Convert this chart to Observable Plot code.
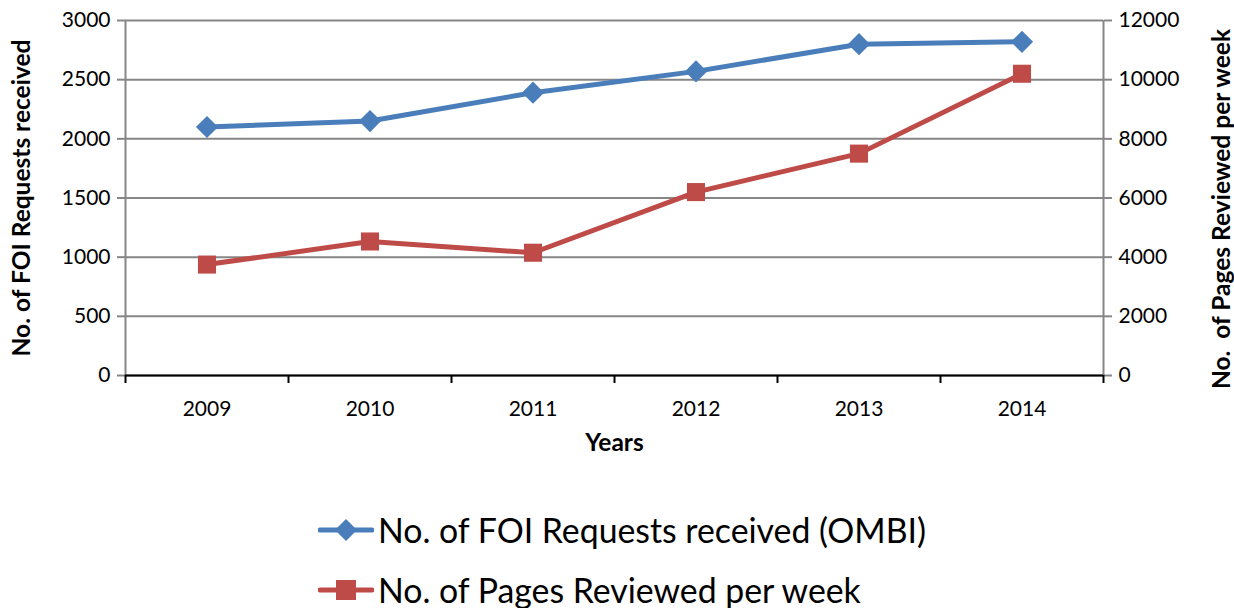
<!DOCTYPE html>
<html><head><meta charset="utf-8">
<script src="https://cdn.jsdelivr.net/npm/d3@7"></script>
<script src="https://cdn.jsdelivr.net/npm/@observablehq/plot@0.6"></script>
<style>
body{margin:0;background:#fff;font-family:Lato,sans-serif;}
#legend .row{display:flex;align-items:center;height:60px;padding-left:318px;font-size:33.8px;color:#000;}
#legend svg{display:block;margin-right:4px;}
</style>
</head><body><div id="chart"></div><div id="legend"></div><script>
const years = [2009, 2010, 2011, 2012, 2013, 2014];
const foiRequests = [2100, 2150, 2390, 2570, 2800, 2820];
const pagesReviewed = [3750, 4530, 4150, 6200, 7500, 10200];
const leftTicks = [0, 500, 1000, 1500, 2000, 2500, 3000];
const rightTicks = [0, 2000, 4000, 6000, 8000, 10000, 12000];
const seriesNames = ["No. of FOI Requests received (OMBI)", "No. of Pages Reviewed per week"];
const leftTitle = "No. of FOI Requests received";
const rightTitle = "No.  of Pages Reviewed per week";
const xTitle = "Years";
const blue = "#4a7ebb", red = "#be4b48", grid = "#868686";

const ratio = rightTicks[rightTicks.length - 1] / leftTicks[leftTicks.length - 1];
const rows = years.map((year, i) => ({year, foi: foiRequests[i], pages: pagesReviewed[i] / ratio}));
const bounds = [...years.map(y => y - 0.5), years[years.length - 1] + 0.5];

const chart = Plot.plot({
  width: 1234, height: 500,
  marginLeft: 125, marginRight: 131, marginTop: 20, marginBottom: 125,
  style: {fontFamily: "Lato, sans-serif", fontSize: "20px", color: "#000", background: "#fff"},
  x: {type: "linear", domain: [bounds[0], bounds[bounds.length - 1]], axis: null},
  y: {domain: [leftTicks[0], leftTicks[leftTicks.length - 1]], axis: null},
  marks: [
    Plot.gridY(leftTicks, {stroke: grid, strokeOpacity: 1, strokeWidth: 2}),
    Plot.ruleX([bounds[0], bounds[bounds.length - 1]], {stroke: grid, strokeWidth: 2}),
    Plot.axisY(leftTicks, {anchor: "left", tickSize: 8, tickPadding: 7, stroke: grid, strokeWidth: 2, label: null, fontSize: 21, fill: "#000", tickFormat: d => String(d)}),
    Plot.axisY(rightTicks.map(v => v / ratio), {anchor: "right", tickSize: 8, tickPadding: 7, stroke: grid, strokeWidth: 2, label: null, fontSize: 21, fill: "#000", tickFormat: d => String(Math.round(d * ratio))}),
    Plot.ruleY([0], {stroke: "#000", strokeWidth: 2}),
    Plot.axisX(bounds, {anchor: "bottom", tickSize: 8, stroke: "#000", strokeWidth: 2, tickFormat: () => "", label: null}),
    Plot.axisX(years, {anchor: "bottom", tickSize: 0, tickPadding: 26, tickFormat: d => String(d), label: null, fontSize: 21, fill: "#000"}),
    Plot.line(rows, {x: "year", y: "foi", stroke: blue, strokeWidth: 5}),
    Plot.dot(rows, {x: "year", y: "foi", symbol: "diamond2", r: 10, fill: blue, stroke: null}),
    Plot.line(rows, {x: "year", y: "pages", stroke: red, strokeWidth: 5}),
    Plot.dot(rows, {x: "year", y: "pages", symbol: "square2", r: 11.5, fill: red, stroke: null}),
    Plot.text([leftTitle], {frameAnchor: "left", textAnchor: "middle", dx: -103, rotate: -90, fontWeight: "bold", fontSize: 24.5, fill: "#000"}),
    Plot.text([rightTitle], {frameAnchor: "right", textAnchor: "middle", dx: 119, dy: 11, rotate: -90, fontWeight: "bold", fontSize: 24.5, fill: "#000"}),
    Plot.text([xTitle], {frameAnchor: "bottom", dy: 75, fontWeight: "bold", fontSize: 24.5, fill: "#000"})
  ]
});
document.getElementById("chart").append(chart);

const legend = document.getElementById("legend");
const colors = [blue, red];
const shapes = ["diamond", "square"];
seriesNames.forEach((name, i) => {
  const row = document.createElement("div");
  row.className = "row";
  const shape = shapes[i] === "diamond"
    ? `<path d="M28,1 L39,12 L28,23 L17,12 Z" fill="${colors[i]}"/>`
    : `<rect x="18" y="2" width="20" height="20" fill="${colors[i]}"/>`;
  row.innerHTML = `<svg width="56" height="24"><line x1="2" y1="12" x2="54" y2="12" stroke="${colors[i]}" stroke-width="5" stroke-linecap="round"/>${shape}</svg><span>${name}</span>`;
  legend.append(row);
});
</script></body></html>
